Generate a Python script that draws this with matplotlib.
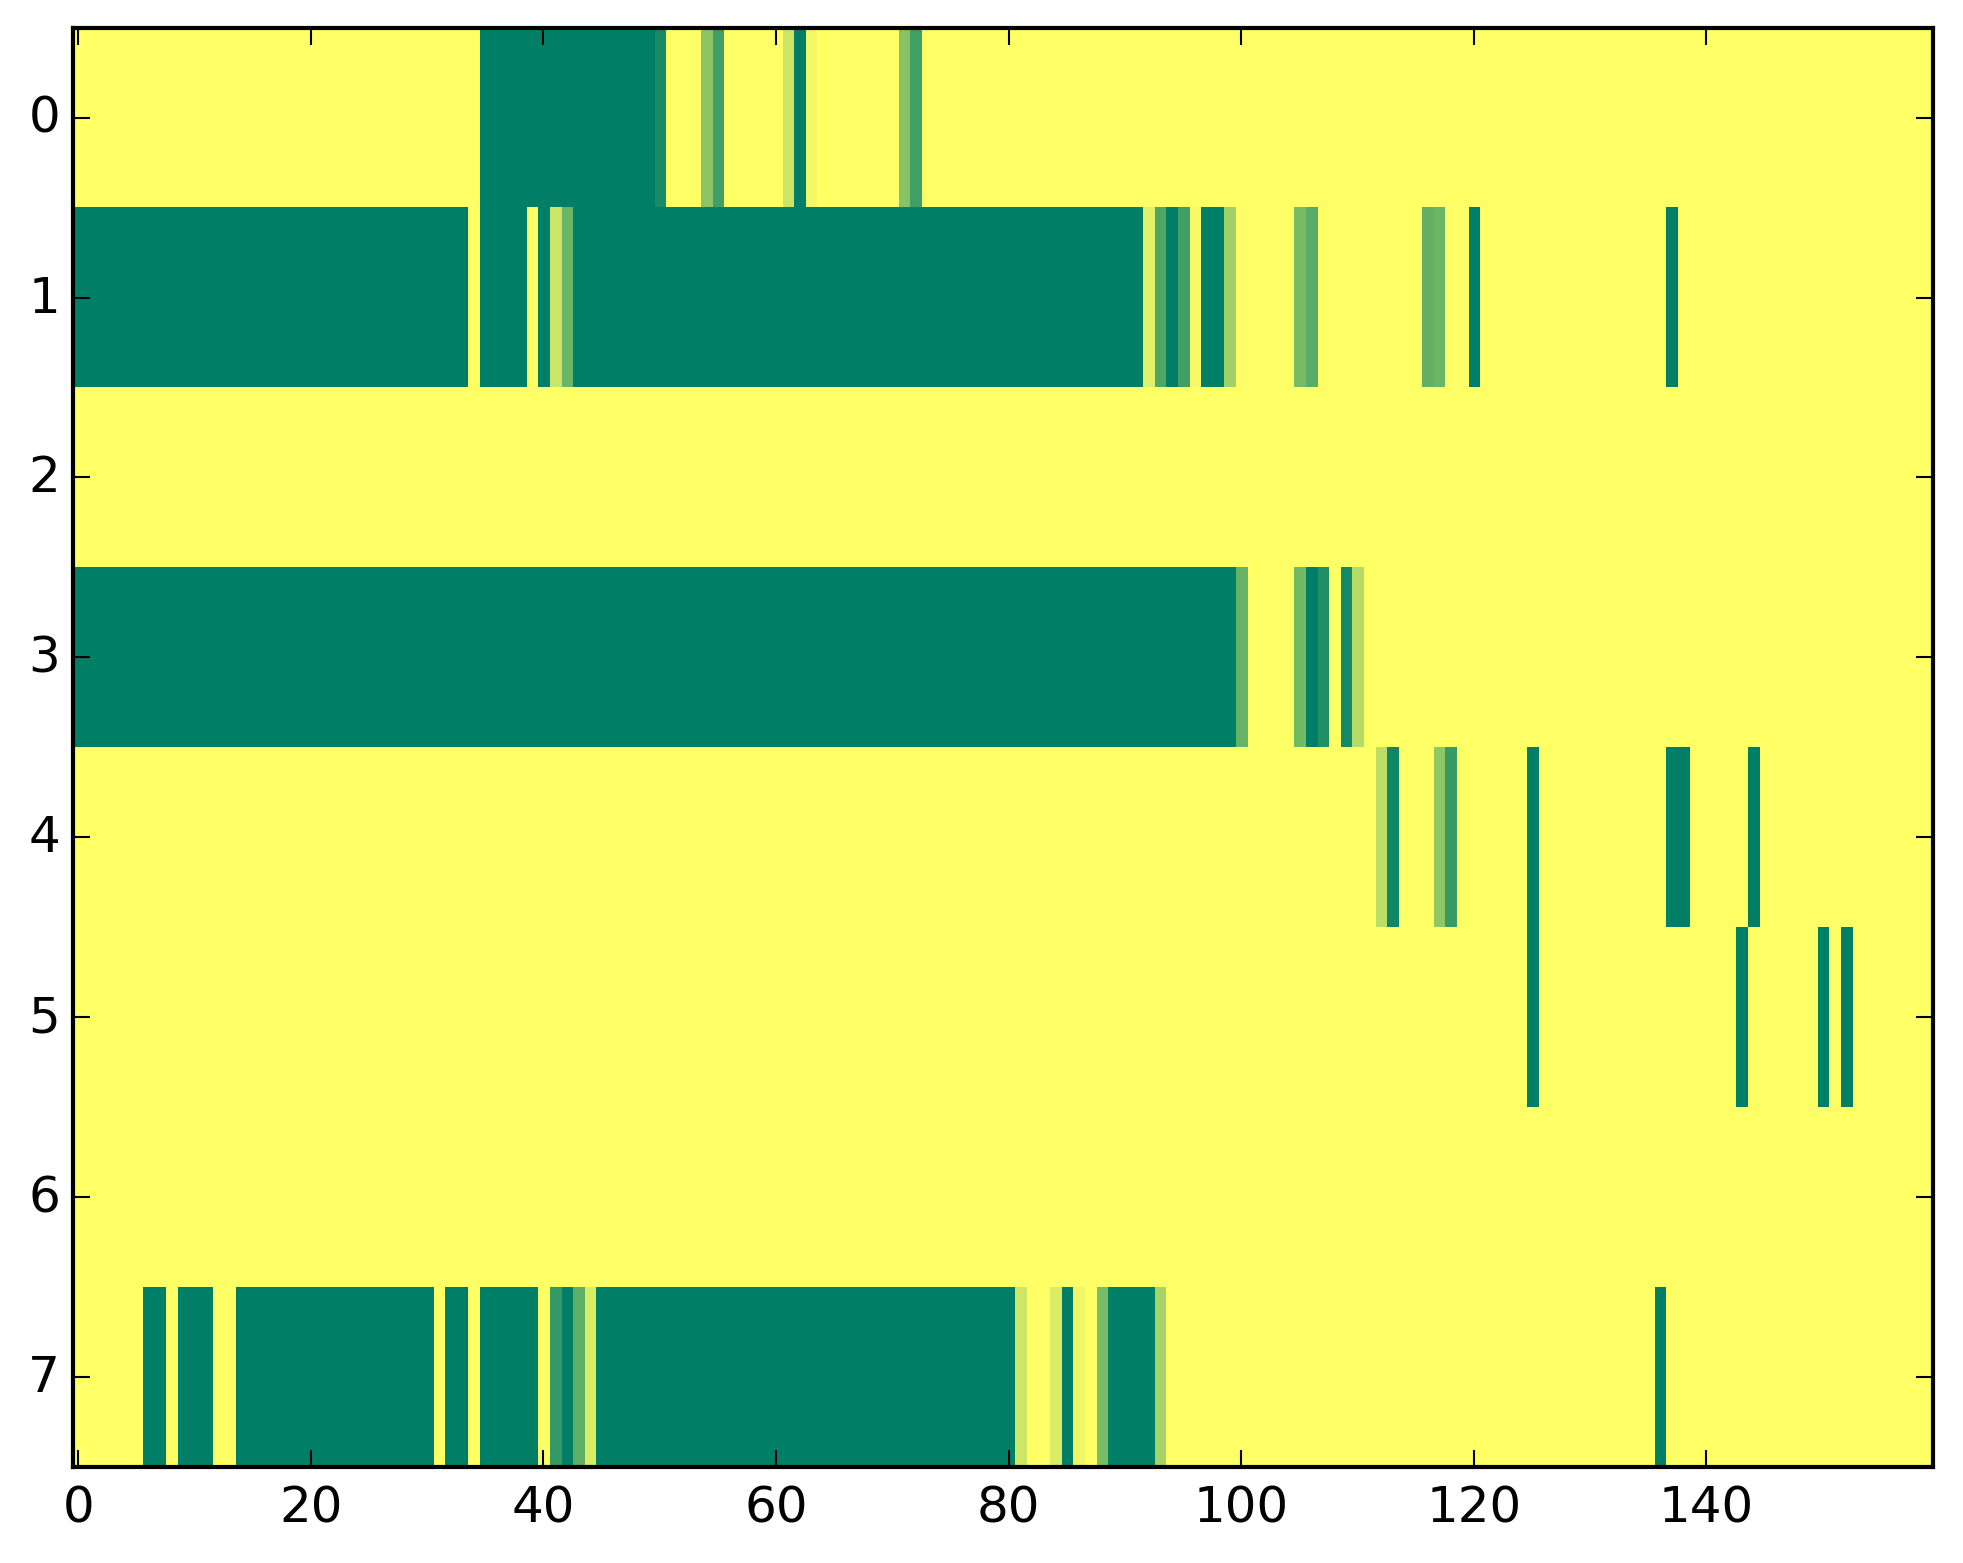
import numpy as np
import matplotlib
matplotlib.use('Agg')
import matplotlib.pyplot as plt

n_rows = 8
n_cols = 160

# Werte pro Zeile als (start, ende, wert), alles andere ist 0.
row0 = [(35, 49, 1.0), (50, 50, 0.9), (54, 54, 0.45), (55, 55, 0.75),
        (61, 61, 0.2), (62, 62, 1.0), (63, 63, 0.05), (71, 71, 0.47),
        (72, 72, 0.75)]
row1 = [(0, 33, 1.0), (35, 38, 1.0), (40, 40, 1.0), (41, 41, 0.2),
        (42, 42, 0.58), (43, 91, 1.0), (92, 92, 0.12), (93, 93, 0.69),
        (94, 94, 1.0), (95, 95, 0.75), (96, 96, 0.04), (97, 98, 1.0),
        (99, 99, 0.37), (105, 105, 0.53), (106, 106, 0.65),
        (116, 116, 0.62), (117, 117, 0.58), (120, 120, 1.0),
        (137, 137, 1.0)]
row2 = []
row3 = [(0, 99, 1.0), (100, 100, 0.6), (105, 105, 0.55), (106, 106, 1.0),
        (107, 107, 0.87), (109, 109, 0.92), (110, 110, 0.29)]
row4 = [(112, 112, 0.26), (113, 113, 0.94), (117, 117, 0.44),
        (118, 118, 0.78), (125, 125, 1.0), (137, 138, 1.0), (144, 144, 1.0)]
row5 = [(125, 125, 1.0), (143, 143, 1.0), (150, 150, 1.0), (152, 152, 1.0)]
row6 = []
row7 = [(6, 7, 1.0), (9, 11, 1.0), (14, 30, 1.0), (32, 33, 1.0),
        (35, 39, 1.0), (41, 41, 0.8), (42, 42, 1.0), (43, 43, 0.63),
        (44, 44, 0.15), (45, 80, 1.0), (81, 81, 0.19), (84, 84, 0.15),
        (85, 85, 1.0), (86, 86, 0.06), (88, 88, 0.52), (89, 92, 1.0),
        (93, 93, 0.35), (136, 136, 1.0)]

rows = [row0, row1, row2, row3, row4, row5, row6, row7]

data = np.zeros((n_rows, n_cols))
for i, runs in enumerate(rows):
    for start, stop, value in runs:
        data[i, start:stop + 1] = value

# Bildgroesse in Pixeln, Achsenrand wie im Original.
W, H = 1963, 1564
plt.style.use('classic')
fig = plt.figure(figsize=(W / 300, H / 300))
ax = fig.add_axes([72.5 / W, (H - 1468) / H, (1933 - 72.5) / W,
                   (1468 - 28.7) / H])
ax.imshow(data, cmap='summer_r', aspect='auto', interpolation='nearest',
          vmin=0, vmax=1)
ax.tick_params(axis='y', pad=3)

fig.savefig('out.png', dpi=300)
